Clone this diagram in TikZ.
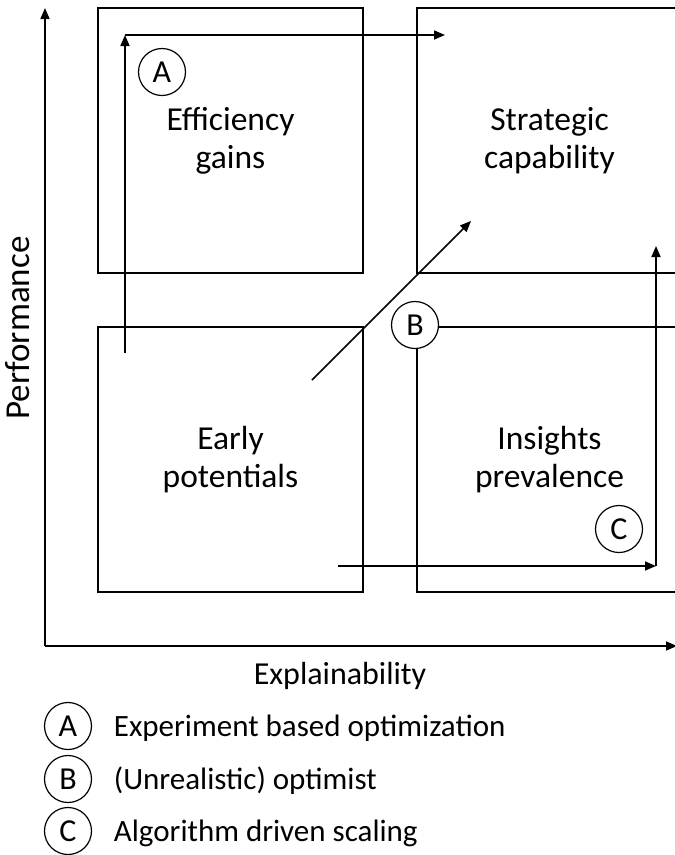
\documentclass[tikz,border=0pt]{standalone}
\usepackage{fontspec}
\setmainfont{Carlito}
\usetikzlibrary{arrows.meta, positioning}

\begin{document}
\begin{tikzpicture}[x=1pt, y=-1pt, line width=1.6pt,
    quad/.style={draw, rectangle, minimum width=265pt, minimum height=265pt, align=center,
      font=\fontsize{33.5}{38}\selectfont},
    tag/.style={draw, circle, fill=white, minimum size=47pt, inner sep=0pt, line width=1.2pt,
      font=\fontsize{32}{36}\selectfont},
    lbl/.style={font=\fontsize{31}{36}\selectfont, inner sep=0pt},
    route/.style={-{Triangle[length=11pt, width=9pt]}}]
  \clip (0,0) rectangle (675,855);

  % four quadrants
  \node[quad] (eff) at (230.5,140.5) {Efficiency\\gains};
  \node[quad] (strat) at (549.5,140.5) {Strategic\\capability};
  \node[quad] (early) at (230.5,459.5) {Early\\potentials};
  \node[quad] (ins) at (549.5,459.5) {Insights\\prevalence};

  % axes
  \coordinate (origin) at (45,646);
  \coordinate (ytop) at (45,8);
  \coordinate (xend) at (677,646);
  \draw[route] (origin) -- (ytop);
  \draw[route] (origin) -- (xend);
  \node[lbl, rotate=90, font=\fontsize{35}{40}\selectfont] (perf) at (18,328) {Performance};
  \node[lbl, font=\fontsize{32}{36}\selectfont] (expl) at (340,676) {Explainability};

  % path A
  \coordinate (a0) at (125,353);
  \coordinate (a1) at (125,35);
  \coordinate (a2) at (445,35);
  \draw[route] (a0) -- (a1);
  \draw[route] (a1) -- (a2);

  % path B
  \coordinate (b0) at (312,380);
  \coordinate (b1) at (471,221);
  \draw[route] (b0) -- (b1);

  % path C
  \coordinate (c0) at (338,566);
  \coordinate (c1) at (656,566);
  \coordinate (c2) at (656,246);
  \draw[route] (c0) -- (c1);
  \draw[route] (c1) -- (c2);

  % markers
  \node[tag] (tagA) at (162,72) {A};
  \node[tag] (tagB) at (415,325) {B};
  \node[tag] (tagC) at (619,529) {C};

  % legend
  \node[tag, fill=none] (legA) at (68,726) {A};
  \node[tag, fill=none] (legB) at (68,779) {B};
  \node[tag, fill=none] (legC) at (68,831) {C};
  \node[lbl, right=21pt of legA, yshift=-2pt] (txtA) {Experiment based optimization};
  \node[lbl, right=21pt of legB, yshift=-2pt] (txtB) {(Unrealistic) optimist};
  \node[lbl, right=21pt of legC, yshift=-2pt] (txtC) {Algorithm driven scaling};
\end{tikzpicture}
\end{document}
